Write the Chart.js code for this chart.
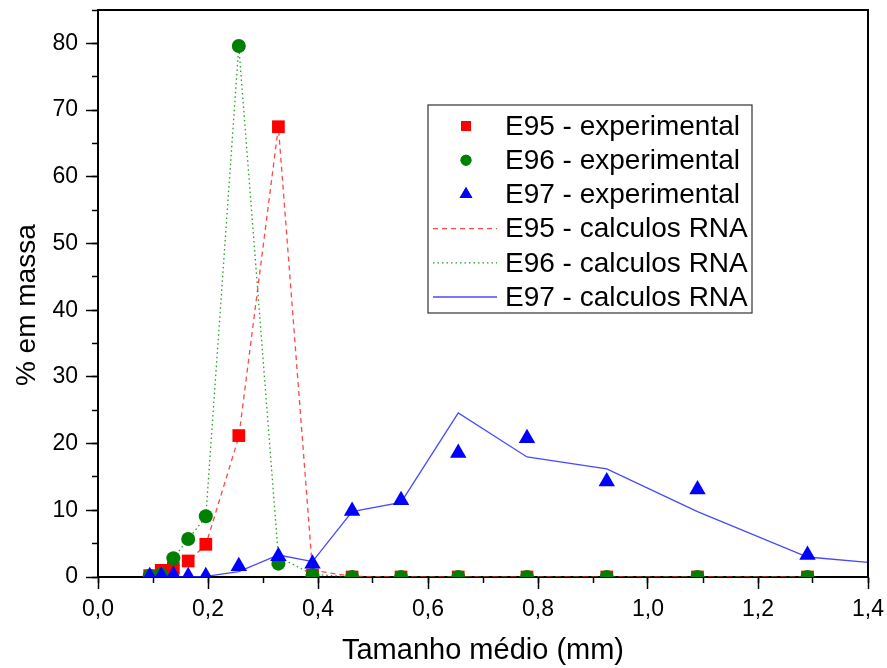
<!DOCTYPE html>
<html>
<head>
<meta charset="utf-8">
<script src="https://cdn.jsdelivr.net/npm/chart.js@4.4.1/dist/chart.umd.min.js"></script>
<style>
  html, body { margin: 0; padding: 0; background: #fff; }
  #wrap { width: 887px; height: 668px; }
</style>
</head>
<body>
<div id="wrap"><canvas id="chart" width="887" height="668"></canvas></div>
<script>
// tamanho médio das frações (mm)
const sizes = [0.094, 0.115, 0.137, 0.164, 0.196, 0.256, 0.328, 0.390, 0.462, 0.551, 0.655, 0.780, 0.925, 1.090, 1.290];
const sizesRna97 = [0.094, 0.115, 0.137, 0.164, 0.196, 0.256, 0.328, 0.390, 0.462, 0.551, 0.655, 0.780, 0.925, 1.090, 1.290, 1.400];

// experimental
const e95Exp = [0.2, 1.0, 1.3, 2.4, 4.9, 21.2, 67.5, 0.3, 0, 0, 0, 0, 0, 0, 0];
const e96Exp = [0.2, 0.4, 2.8, 5.7, 9.1, 79.6, 2.0, 0.3, 0, 0, 0, 0, 0, 0, 0];
const e97Exp = [0.1, 0.2, 0.3, 0.1, 0.1, 1.6, 3.1, 2.0, 9.9, 11.5, 18.6, 20.8, 14.3, 13.1, 3.3];

// calculos RNA
const e95Rna = [0.2, 0.9, 1.3, 2.4, 4.8, 21.0, 67.5, 1.0, 0.1, 0, 0, 0, 0, 0, 0];
const e96Rna = [0.2, 0.5, 2.8, 5.7, 9.0, 79.6, 3.0, 0.4, 0, 0, 0, 0, 0, 0, 0];
const e97Rna = [0, 0, 0, 0, 0.1, 0.8, 3.3, 2.3, 9.8, 11.2, 24.6, 18.0, 16.2, 9.8, 3.0, 2.2];

// eixos: major / minor
const xRange = { min: 0, max: 1.4, major: 0.2, minor: 0.1 };
const yRange = { min: 0, max: 85, major: 10, minor: 5, lastLabel: 80 };

const FONT = '"Liberation Sans", Arial, sans-serif';

const pts = (xs, ys) => xs.map((x, i) => ({ x, y: ys[i] }));
const comma = v => v.toFixed(1).replace('.', ',');

const legendItems = [
    { label: 'E95 - experimental', ds: 0 },
    { label: 'E96 - experimental', ds: 1 },
    { label: 'E97 - experimental', ds: 2 },
    { label: 'E95 - calculos RNA', ds: 3 },
    { label: 'E96 - calculos RNA', ds: 4 },
    { label: 'E97 - calculos RNA', ds: 5 },
];

// moldura + legenda dentro do gráfico
const frameLegend = {
    id: 'frameLegend',
    afterDraw(chart) {
        const { ctx, chartArea: a } = chart;
        ctx.save();
        ctx.strokeStyle = '#000';
        ctx.lineWidth = 2;
        ctx.beginPath();
        ctx.moveTo(a.left, a.top); ctx.lineTo(a.right, a.top); ctx.lineTo(a.right, a.bottom);
        ctx.stroke();

        const bx = a.left + 330, by = a.top + 95, bw = 324, bh = 208;
        ctx.lineWidth = 1.2;
        ctx.strokeStyle = '#333';
        ctx.fillStyle = '#fff';
        ctx.fillRect(bx, by, bw, bh);
        ctx.strokeRect(bx, by, bw, bh);

        ctx.font = '28px ' + FONT;
        ctx.textBaseline = 'middle';
        legendItems.forEach((it, i) => {
            const ds = chart.data.datasets[it.ds];
            const cy = by + 21 + i * 34.2;
            if (ds.showLine) {
                ctx.strokeStyle = ds.borderColor;
                ctx.lineWidth = ds.borderWidth;
                ctx.setLineDash(ds.borderDash || []);
                ctx.beginPath();
                ctx.moveTo(bx + 5, cy); ctx.lineTo(bx + 69, cy);
                ctx.stroke();
                ctx.setLineDash([]);
            } else {
                ctx.fillStyle = ds.pointBackgroundColor;
                Chart.helpers.drawPoint(ctx, {
                    pointStyle: ds.pointStyle, radius: ds.pointRadius * 0.78, borderWidth: 0, rotation: 0
                }, bx + 38, cy);
                ctx.fill();
            }
            ctx.fillStyle = '#000';
            ctx.fillText(it.label, bx + 77, cy + 1);
        });
        ctx.restore();
    }
};

const expDs = (data, color, style, r, order) => ({
    data, showLine: false, pointStyle: style, pointRadius: r, pointHoverRadius: r,
    pointBackgroundColor: color, pointBorderColor: color, pointBorderWidth: 0,
    borderColor: color, clip: 0, order
});
const rnaDs = (data, color, dash, order) => ({
    data, showLine: true, pointRadius: 0, borderColor: color, borderWidth: 1.3,
    borderDash: dash, backgroundColor: color, tension: 0, clip: 0, order
});

const noPad = s => { s.paddingTop = 0; s.paddingBottom = 0; s.paddingLeft = 0; s.paddingRight = 0; };

new Chart(document.getElementById('chart'), {
    type: 'scatter',
    data: {
        datasets: [
            expDs(pts(sizes, e95Exp), '#ff0000', 'rect', 9, 2),
            expDs(pts(sizes, e96Exp), '#008000', 'circle', 7, 1),
            expDs(pts(sizes, e97Exp), '#0000ff', 'triangle', 9.5, 0),
            rnaDs(pts(sizes, e95Rna), 'rgba(255,40,40,0.85)', [5, 4], 5),
            rnaDs(pts(sizes, e96Rna), 'rgba(0,140,0,0.85)', [1.5, 3], 4),
            rnaDs(pts(sizesRna97, e97Rna), 'rgba(40,40,255,0.85)', [], 3),
        ]
    },
    options: {
        responsive: false,
        animation: false,
        layout: { padding: { top: 10, right: 19, left: 0, bottom: 0 } },
        plugins: { legend: { display: false }, tooltip: { enabled: false } },
        scales: {
            x: {
                type: 'linear', min: xRange.min, max: xRange.max, weight: 1,
                afterFit: s => { s.height = 91; noPad(s); },
                border: { color: '#000', width: 2 },
                grid: { drawOnChartArea: false, color: '#000', tickLength: 12, tickWidth: 1.5 },
                ticks: {
                    stepSize: xRange.major, color: '#000', font: { family: FONT, size: 23 }, padding: 7,
                    maxRotation: 0, autoSkip: false,
                    callback: v => comma(v)
                },
                title: { display: true, text: 'Tamanho médio (mm)', color: '#000', font: { family: FONT, size: 29 }, padding: { top: 0, bottom: 0 } }
            },
            xMinor: {
                type: 'linear', position: 'bottom', min: xRange.min, max: xRange.max, weight: 0,
                afterFit: s => { s.height = 0; noPad(s); },
                border: { display: false },
                grid: { drawOnChartArea: false, color: '#000', tickLength: 6, tickWidth: 1.5 },
                ticks: { stepSize: xRange.minor, display: false, autoSkip: false }
            },
            y: {
                min: yRange.min, max: yRange.max, weight: 1,
                afterFit: s => { s.width = 98; noPad(s); },
                border: { color: '#000', width: 2 },
                grid: {
                    drawOnChartArea: false, tickLength: 12, tickWidth: 1.5,
                    color: c => (c.tick && c.tick.value > yRange.lastLabel) ? 'rgba(0,0,0,0)' : '#000'
                },
                ticks: {
                    stepSize: yRange.major, color: '#000', font: { family: FONT, size: 23 }, padding: 8,
                    autoSkip: false,
                    callback: v => v <= yRange.lastLabel ? String(v) : ''
                },
                title: { display: true, text: '% em massa\u00a0\u00a0\u00a0', color: '#000', font: { family: FONT, size: 28 }, padding: { top: 10, bottom: 0 } }
            },
            yMinor: {
                position: 'left', min: yRange.min, max: yRange.max, weight: 0,
                afterFit: s => { s.width = 0; noPad(s); },
                border: { display: false },
                grid: { drawOnChartArea: false, color: '#000', tickLength: 6, tickWidth: 1.5 },
                ticks: { stepSize: yRange.minor, display: false, autoSkip: false }
            }
        }
    },
    plugins: [frameLegend]
});
</script>
</body>
</html>
